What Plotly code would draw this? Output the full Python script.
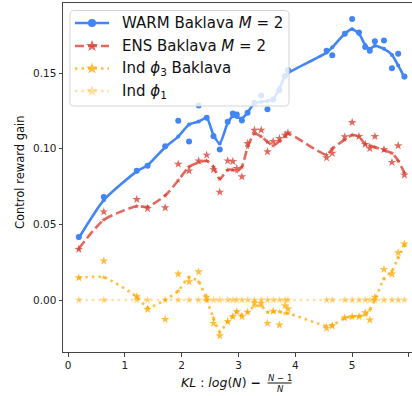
import math
import plotly.graph_objects as go

# ---------------- data ----------------
kl = [0.19, 0.63, 1.21, 1.40, 1.71, 1.94, 2.13, 2.30, 2.44, 2.56, 2.67, 2.81, 2.90, 2.97,
      3.06, 3.16, 3.28, 3.40, 3.51, 3.61, 3.72, 3.82, 3.87, 4.55, 4.65, 4.87, 5.00, 5.12,
      5.23, 5.31, 5.40, 5.56, 5.70, 5.81, 5.92]

warm_raw = [0.0416, 0.0680, 0.0854, 0.0887, 0.1017, 0.1184, 0.1048, 0.1286, 0.1204, 0.1083,
            0.0995, 0.1178, 0.1233, 0.1226, 0.1187, 0.1237, 0.1303, 0.1352, 0.1260, 0.1326,
            0.1387, 0.1480, 0.1520, 0.1647, 0.1618, 0.1760, 0.1858, 0.1768, 0.1673, 0.1647,
            0.1710, 0.1715, 0.1532, 0.1627, 0.1477]
warm_smooth = [0.041, 0.066, 0.085, 0.089, 0.101, 0.108, 0.116, 0.118, 0.1205, 0.109,
               0.1035, 0.117, 0.1215, 0.121, 0.120, 0.124, 0.130, 0.131, 0.1315, 0.133,
               0.140, 0.148, 0.150, 0.1635, 0.167, 0.176, 0.179, 0.176, 0.1685, 0.166,
               0.168, 0.166, 0.162, 0.155, 0.147]

ens_raw = [0.0335, 0.0583, 0.0665, 0.0605, 0.0610, 0.0898, 0.0854, 0.0920, 0.0958, 0.0862,
           0.0713, 0.0920, 0.0916, 0.0870, 0.0815, 0.1035, 0.1123, 0.1123, 0.0980, 0.1048,
           0.1068, 0.1090, 0.1105, 0.0940, 0.0970, 0.1079, 0.1174, 0.1081, 0.1029, 0.1002,
           0.1081, 0.0995, 0.0910, 0.1020, 0.0826]
ens_smooth = [0.034, 0.053, 0.062, 0.0615, 0.069, 0.079, 0.088, 0.091, 0.092, 0.088,
              0.080, 0.086, 0.086, 0.085, 0.088, 0.101, 0.110, 0.108, 0.1045, 0.102,
              0.105, 0.108, 0.110, 0.096, 0.100, 0.106, 0.109, 0.108, 0.103, 0.102,
              0.101, 0.099, 0.097, 0.092, 0.084]

ind3_raw = [0.0147, 0.0258, 0.0022, -0.0062, -0.0128, 0.0172, 0.0121, 0.0187, 0.0018, -0.0154,
            -0.0236, -0.0143, -0.0110, -0.0077, -0.0110, -0.0080, -0.0018, -0.0022, -0.0154, -0.0073,
            -0.0165, -0.0037, -0.0059, -0.0187, -0.0172, -0.0117, -0.0110, -0.0110, -0.0084, -0.0132,
            0.0018, 0.0203, 0.0172, 0.0313, 0.0370]
ind3_smooth = [0.0147, 0.0150, 0.0022, -0.0050, 0.0000, 0.0060, 0.0150, 0.0120, 0.0000, -0.0120,
               -0.0210, -0.0143, -0.0106, -0.0077, -0.0100, -0.0080, -0.0040, -0.0040, -0.0080, -0.0077,
               -0.0077, -0.0088, -0.0088, -0.0172, -0.0165, -0.0120, -0.0110, -0.0106, -0.0099, -0.0066,
               0.0000, 0.0140, 0.0190, 0.0280, 0.0363]

ind1_raw = [0.0] * len(kl)
ind1_smooth = [0.0] * len(kl)

series_names = ["WARM Baklava <i>M</i> = 2", "ENS Baklava <i>M</i> = 2",
                "Ind <i>ϕ</i><sub>3</sub> Baklava", "Ind <i>ϕ</i><sub>1</sub>"]

y_ticks = [0.0, 0.05, 0.10, 0.15]
y_ticklabels = ["0.00", "0.05", "0.10", "0.15"]
x_ticks = [0, 1, 2, 3, 4, 5, 6]

# ---------------- styling ----------------
FONT = "DejaVu Sans"
BLUE = "#4285F4"
RED = "rgba(219,68,55,0.8)"
ORANGE = "rgba(255,168,0,0.75)"
LIGHT = "rgba(255,168,0,0.35)"

W, H = 412, 396
ML, MR, MT, MB = 63, 0, 3, 44
PW, PH = W - ML - MR, H - MT - MB
X0, XPX = 68.0, 56.83          # pixel of x=0, pixels per unit
Y0, YPX = 300.0, 1513.0        # pixel of y=0, pixels per unit
xr = [(ML - X0) / XPX, (W - MR - X0) / XPX]
yr = [(Y0 - (H - MB)) / YPX, (Y0 - MT) / YPX]


def px(xp):
    return (xp - ML) / PW


def py(yp):
    return 1 - (yp - MT) / PH


fig = go.Figure()

# raw, smooth, colour, dash, symbol, raw size, line-marker size, legend marker size
specs = [
    (warm_raw, warm_smooth, BLUE, "solid", "circle", 6, 4, 8),
    (ens_raw, ens_smooth, RED, "9px,4px", "star", 6.5, 4, 9),
    (ind3_raw, ind3_smooth, ORANGE, "2.5px,4px", "star", 6.5, 4, 9),
    (ind1_raw, ind1_smooth, LIGHT, "2.5px,4px", "star", 6.5, 4, 9),
]

for i, (raw, sm, col, dash, sym, rs, ms, lgs) in enumerate(specs):
    fig.add_trace(go.Scatter(x=kl, y=sm, mode="lines+markers",
                             line=dict(color=col, width=2.6, dash=dash, shape="spline", smoothing=0.6),
                             marker=dict(color=col, size=ms, symbol=sym, line=dict(width=0)),
                             showlegend=False, hoverinfo="skip"))
    fig.add_trace(go.Scatter(x=kl, y=raw, mode="markers",
                             marker=dict(color=col, size=rs, symbol=sym, line=dict(width=0)),
                             showlegend=False, hoverinfo="skip"))

# ---------- hand-built legend on a pixel-coordinate overlay axis ----------
lx0, lx1, ly0, ly1, rad = 70, 289, 10.5, 106, 3.5
corners = [(lx1 - rad, ly0 + rad, -90, 0), (lx1 - rad, ly1 - rad, 0, 90),
           (lx0 + rad, ly1 - rad, 90, 180), (lx0 + rad, ly0 + rad, 180, 270)]
bx, by = [], []
for cx, cy, a0, a1 in corners:
    for k in range(7):
        a = math.radians(a0 + (a1 - a0) * k / 6)
        bx.append(cx + rad * math.cos(a))
        by.append(cy + rad * math.sin(a))
bx.append(bx[0]); by.append(by[0])
fig.add_trace(go.Scatter(x=bx, y=by, xaxis="x2", yaxis="y2", mode="lines", fill="toself",
                         fillcolor="rgba(255,255,255,0.8)", line=dict(color="#d4d4d4", width=1),
                         showlegend=False, hoverinfo="skip"))

rows = [23, 46, 68.5, 91]
for i, (raw, sm, col, dash, sym, rs, ms, lgs) in enumerate(specs):
    yrow = rows[i]
    fig.add_trace(go.Scatter(x=[75, 109], y=[yrow, yrow], xaxis="x2", yaxis="y2", mode="lines",
                             line=dict(color=col, width=2.6, dash=dash), showlegend=False, hoverinfo="skip"))
    fig.add_trace(go.Scatter(x=[92], y=[yrow], xaxis="x2", yaxis="y2", mode="markers",
                             marker=dict(color=col, size=lgs, symbol=sym, line=dict(width=0)),
                             showlegend=False, hoverinfo="skip"))
    fig.add_annotation(x=120, y=yrow, xref="x2", yref="y2", xanchor="left", yanchor="middle",
                       text=series_names[i], showarrow=False,
                       font=dict(family=FONT, size=15, color="#111"))

# x-axis title (mathtext-like) as annotations
fig.add_annotation(x=px(263), y=py(382.5), xref="paper", yref="paper", xanchor="right", yanchor="middle",
                   text="<i>KL</i> : <i>log</i>(<i>N</i>) <b>−</b>", showarrow=False,
                   font=dict(family=FONT, size=12.5, color="#111"))
fig.add_annotation(x=px(279.5), y=py(378), xref="paper", yref="paper", xanchor="center", yanchor="middle",
                   text="<i>N</i> − 1", showarrow=False, font=dict(family=FONT, size=8.5, color="#111"))
fig.add_annotation(x=px(280), y=py(389), xref="paper", yref="paper", xanchor="center", yanchor="middle",
                   text="<i>N</i>", showarrow=False, font=dict(family=FONT, size=8.5, color="#111"))
fig.add_shape(type="line", xref="paper", yref="paper", x0=px(267.5), x1=px(291.5), y0=py(383), y1=py(383),
              line=dict(color="#111", width=1))

# y-axis title
fig.add_annotation(x=px(20), y=py(172), xref="paper", yref="paper", xanchor="center", yanchor="middle",
                   text="Control reward gain", textangle=-90, showarrow=False,
                   font=dict(family=FONT, size=11.5, color="#111"))

fig.update_layout(
    width=W, height=H, margin=dict(l=ML, r=MR, t=MT, b=MB, pad=0),
    paper_bgcolor="white", plot_bgcolor="white",
    font=dict(family=FONT, size=10.5, color="#222"),
    showlegend=False,
    xaxis=dict(range=xr, tickmode="array", tickvals=x_ticks, showgrid=False, zeroline=False,
               showline=True, linecolor="#444", linewidth=1, mirror=True, ticks="outside",
               ticklen=3.5, tickcolor="#444", tickfont=dict(family=FONT, size=10.5, color="#222")),
    yaxis=dict(range=yr, tickmode="array", tickvals=y_ticks, ticktext=y_ticklabels, showgrid=False,
               zeroline=False, showline=True, linecolor="#444", linewidth=1, mirror=False, ticks="outside",
               ticklen=3.5, tickcolor="#444", tickfont=dict(family=FONT, size=10.5, color="#222")),
    xaxis2=dict(overlaying="x", range=[ML, W - MR], visible=False, fixedrange=True),
    yaxis2=dict(overlaying="y", range=[H - MB, MT], visible=False, fixedrange=True),
)

fig.write_html("out.html")
